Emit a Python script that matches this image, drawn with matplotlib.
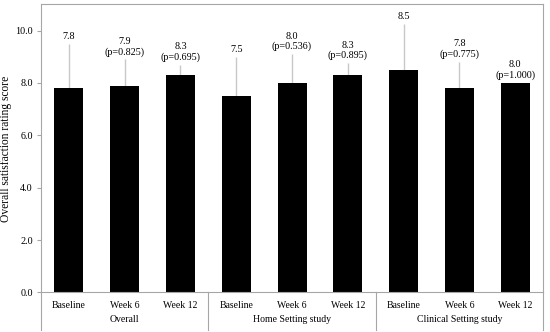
import matplotlib
matplotlib.use("Agg")
import matplotlib.pyplot as plt
import matplotlib.transforms as mtransforms

# datos
groups = ["Overall", "Home Setting study", "Clinical Setting study"]
visits = ["Baseline", "Week 6", "Week 12"]
scores = [7.8, 7.9, 8.3, 7.5, 8.0, 8.3, 8.5, 7.8, 8.0]
sd_upper = [1.7, 1.0, 0.4, 1.5, 1.1, 0.45, 1.75, 1.0, 0.0]
p_values = [None, "0.825", "0.695", None, "0.536", "0.895", None, "0.775", "1.000"]

plt.rcParams["font.family"] = ["Liberation Serif", "DejaVu Serif"]
plt.rcParams["font.size"] = 7

fig = plt.figure(figsize=(5.5, 3.32), dpi=100)
ax = fig.add_axes([0.0745, 0.119, 0.913, 0.868])

grey = "#a6a6a6"
x = list(range(len(scores)))
ax.bar(x, scores, width=0.52, color="black", zorder=2)
ax.errorbar(x, scores, yerr=[[0] * len(scores), sd_upper], fmt="none",
            ecolor="#c8c8c8", elinewidth=1, capsize=0, zorder=1)

for i, (v, s, p) in enumerate(zip(scores, sd_upper, p_values)):
    txt = f"{v:.1f}" if p is None else f"{v:.1f}\n(p={p})"
    ax.annotate(txt, (i, v + s), xytext=(0, 2), textcoords="offset points",
                ha="center", va="bottom", fontsize=7.3, linespacing=1.15)

ax.set_xlim(-0.5, len(scores) - 0.5)
ax.set_ylim(0, 11)
ax.set_yticks([0, 2, 4, 6, 8, 10])
ax.set_yticklabels([f"{t:.1f}" for t in [0, 2, 4, 6, 8, 10]])
ax.set_xticks(x)
ax.set_xticklabels(visits * len(groups))
ax.tick_params(axis="x", length=0, pad=6)
ax.tick_params(axis="y", length=3, color=grey, pad=3, labelsize=7.3)
ax.set_ylabel("Overall satisfaction rating score", fontsize=8.3)
ax.yaxis.set_label_coords(-0.058, 0.5)

for sp in ax.spines.values():
    sp.set_color(grey)
    sp.set_linewidth(0.8)

trans = mtransforms.blended_transform_factory(ax.transData, ax.transAxes)
for xs in [-0.5, 2.5, 5.5, 8.5]:
    ax.plot([xs, xs], [0, -0.13], color=grey, lw=0.8, transform=trans, clip_on=False)
for g, name in enumerate(groups):
    ax.text(g * 3 + 1, -0.093, name, transform=trans, ha="center", va="center", fontsize=7)

plt.savefig("out.png", dpi=100)
